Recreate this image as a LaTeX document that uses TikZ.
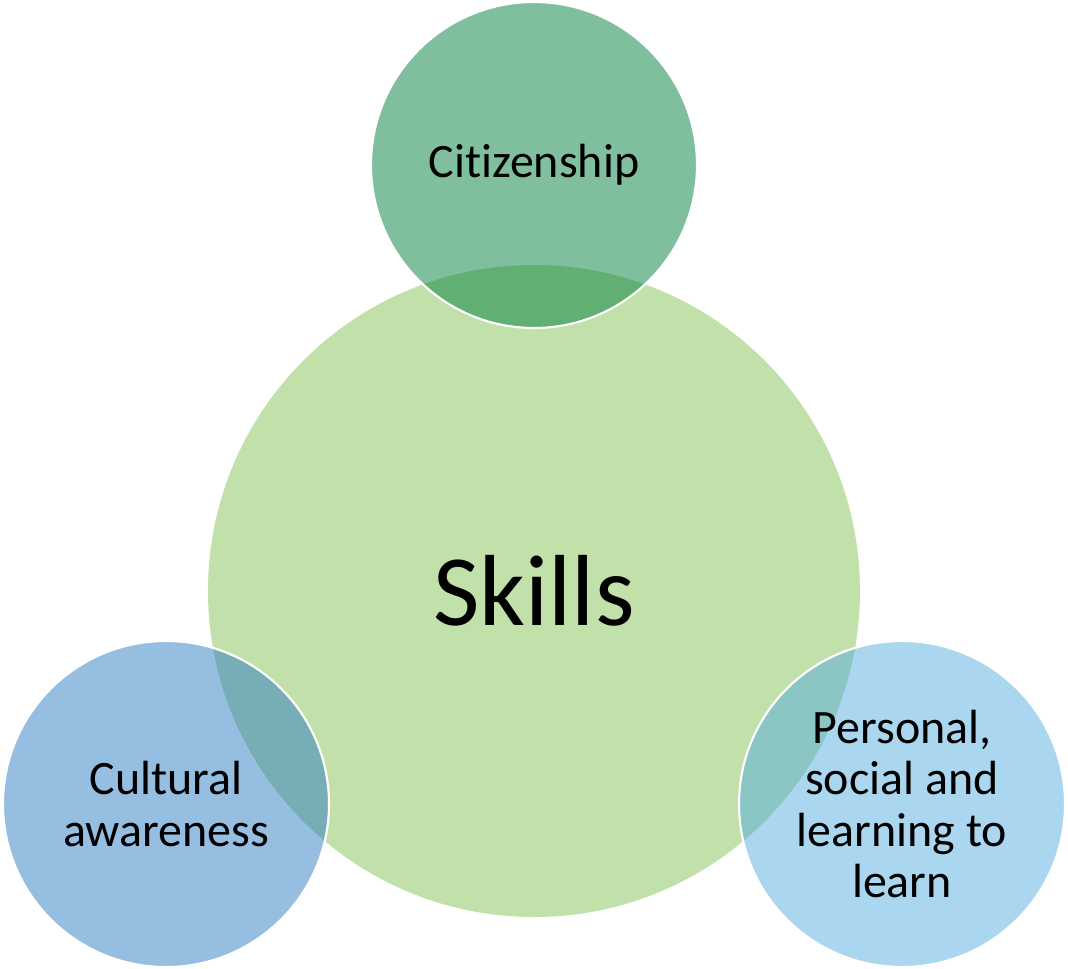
\documentclass[tikz,border=0pt]{standalone}
\usepackage{fontspec}
\setmainfont{Carlito}[Ligatures={NoCommon}]
\usepackage{tikz}

\definecolor{skillgreen}{RGB}{194,224,170}
\definecolor{citgreen}{RGB}{2,128,62}
\definecolor{culblue}{RGB}{45,125,193}
\definecolor{perblue}{RGB}{87,173,223}

\begin{document}
\begin{tikzpicture}[
  disc/.style={circle,inner sep=0pt,align=center,text=black},
  bigdisc/.style={disc,minimum size=13.04cm,fill=skillgreen,font=\fontsize{57.5}{60}\selectfont},
  smalldisc/.style={disc,minimum size=6.52cm,draw=white,line width=1.2pt,fill opacity=0.5,text opacity=1,font=\fontsize{27.3}{29.3}\selectfont}]
\useasboundingbox (-10.68,-7.54) rectangle (10.68,11.82);
\node[bigdisc] (skills) at (0,0) {Skills};
\node[smalldisc,fill=citgreen] (citizen) at (0,8.52) {Citizenship};
\node[smalldisc,fill=culblue] (culture) at (-7.36,-4.26) {Cultural\\awareness};
\node[smalldisc,fill=perblue] (personal) at (7.36,-4.26) {Personal,\\social and\\learning to\\learn};
\end{tikzpicture}
\end{document}
